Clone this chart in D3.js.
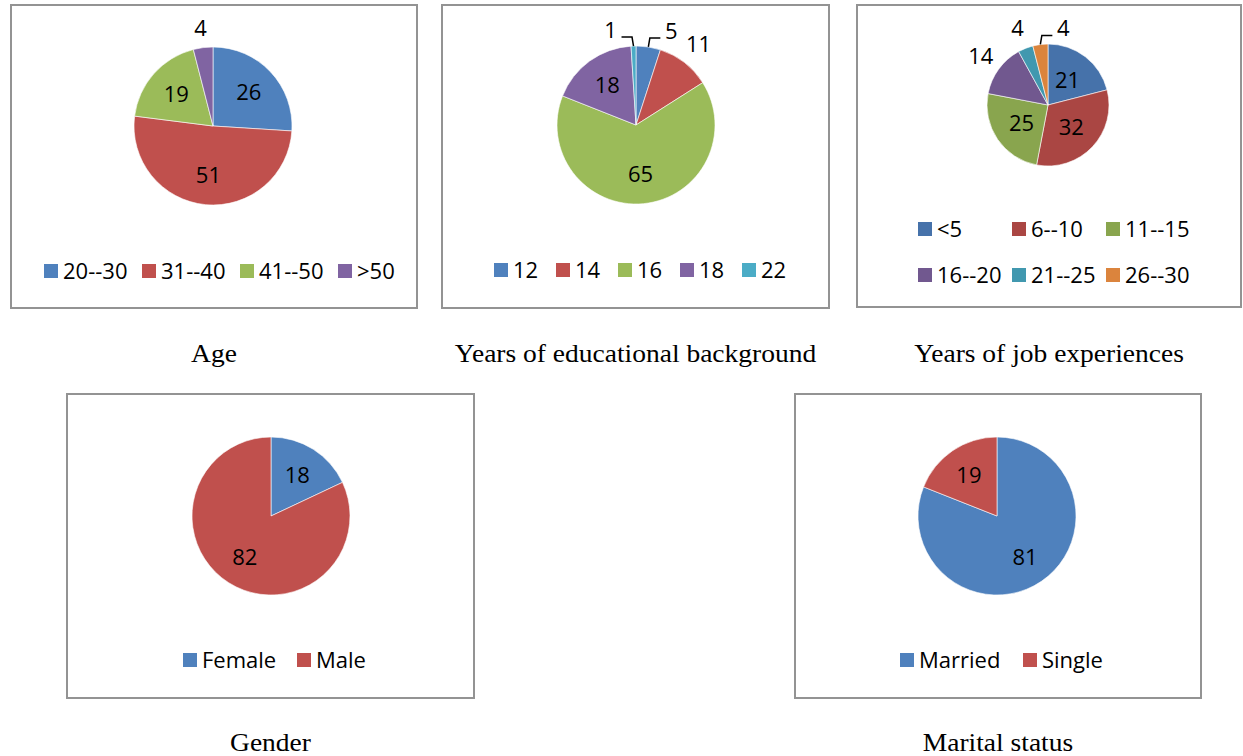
<!DOCTYPE html>
<html>
<head>
<meta charset="utf-8">
<script src="https://cdn.jsdelivr.net/npm/d3@7"></script>
<style>
  html, body { margin: 0; padding: 0; background: #fff; }
  svg { display: block; }
</style>
</head>
<body>
<script>
// ---------------- DATA ----------------
const ageCategories = ["20--30", "31--40", "41--50", ">50"];
const ageValues = [26, 51, 19, 4];

const eduCategories = ["12", "14", "16", "18", "22"];
const eduValues = [5, 11, 65, 18, 1];

const jobCategories = ["<5", "6--10", "11--15", "16--20", "21--25", "26--30"];
const jobValues = [21, 32, 25, 14, 4, 4];

const genderCategories = ["Female", "Male"];
const genderValues = [18, 82];

const maritalCategories = ["Married", "Single"];
const maritalValues = [81, 19];

const captions = ["Age", "Years of educational background", "Years of job experiences", "Gender", "Marital status"];

// ---------------- STYLE ----------------
const officeColors = ["#4F81BD", "#C0504D", "#9BBB59", "#8064A2", "#4BACC6", "#F79646"];
const darkColors = ["#4672AA", "#AA4643", "#89A54E", "#71588F", "#4198AF", "#DB843D"];
const sansFont = "'Open Sans', 'Noto Sans', sans-serif";
const serifFont = "'Liberation Serif', 'Times New Roman', serif";

const W = 1243, H = 756;
const svg = d3.select("body").append("svg").attr("width", W).attr("height", H);

// ---------------- PANEL LAYOUT ----------------
const panels = [
  { cats: ageCategories, vals: ageValues, colors: officeColors,
    box: [11, 5, 417, 308], cx: 213, cy: 126, r: 79,
    modes: ["in", "in", "in", "out"], inR: 49, outR: 99,
    legend: { x0: 44, cellW: 98, perRow: 4, ys: [271] },
    caption: captions[0], capY: 362 },
  { cats: eduCategories, vals: eduValues, colors: officeColors,
    box: [442, 5, 829, 308], cx: 636, cy: 125, r: 79,
    modes: ["lead+", "out", "in", "in", "lead-"], inR: 49, outR: 102,
    legend: { x0: 494, cellW: 62, perRow: 5, ys: [270] },
    caption: captions[1], capY: 362 },
  { cats: jobCategories, vals: jobValues, colors: darkColors,
    box: [857, 5, 1241, 307], cx: 1048, cy: 105, r: 61,
    modes: ["in", "in", "in", "out", "out", "lead+"], inR: 32, outR: 83,
    legend: { x0: 918, cellW: 94, perRow: 3, ys: [229, 275] },
    caption: captions[2], capY: 362 },
  { cats: genderCategories, vals: genderValues, colors: officeColors,
    box: [67, 394, 474, 698], cx: 271, cy: 516, r: 79,
    modes: ["in", "in"], inR: 49, outR: 99,
    legend: { x0: 183, cellW: 114, perRow: 2, ys: [660] },
    caption: captions[3], capY: 751 },
  { cats: maritalCategories, vals: maritalValues, colors: officeColors,
    box: [795, 394, 1201, 698], cx: 997, cy: 516, r: 79,
    modes: ["in", "in"], inR: 50, outR: 99,
    legend: { x0: 900, cellW: 123, perRow: 2, ys: [660] },
    caption: captions[4], capY: 751 }
];

const pie = d3.pie().sort(null).value(d => d);

panels.forEach(p => {
  const [x1, y1, x2, y2] = p.box;
  const g = svg.append("g");

  // chart frame
  g.append("rect")
    .attr("x", x1).attr("y", y1)
    .attr("width", x2 - x1).attr("height", y2 - y1)
    .attr("fill", "#fff")
    .attr("stroke", "#939393").attr("stroke-width", 2);

  const color = d3.scaleOrdinal().domain(p.cats).range(p.colors);
  const arcs = pie(p.vals);
  const arc = d3.arc().innerRadius(0).outerRadius(p.r);
  const inArc = d3.arc().innerRadius(p.inR).outerRadius(p.inR);
  const outArc = d3.arc().innerRadius(p.outR).outerRadius(p.outR);
  const edgeArc = d3.arc().innerRadius(p.r).outerRadius(p.r);

  const pg = g.append("g").attr("transform", `translate(${p.cx},${p.cy})`);

  pg.selectAll("path.slice")
    .data(arcs)
    .join("path")
    .attr("class", "slice")
    .attr("d", arc)
    .attr("fill", (d, i) => color(p.cats[i]))
    .attr("stroke", "#fff")
    .attr("stroke-width", 0.6);

  // data labels
  arcs.forEach((d, i) => {
    const mode = p.modes[i];
    let lx, ly;
    if (mode === "in") {
      [lx, ly] = inArc.centroid(d);
    } else if (mode === "out") {
      [lx, ly] = outArc.centroid(d);
    } else {
      const sign = mode === "lead+" ? 1 : -1;
      const [ex, ey] = edgeArc.centroid(d);
      lx = ex + sign * 23;
      ly = ey - 16;
      pg.append("path")
        .attr("d", d3.line()([[ex, ey], [ex + sign * 1.5, ey - 9], [ex + sign * 12, ey - 9]]))
        .attr("fill", "none")
        .attr("stroke", "#000")
        .attr("stroke-width", 1.5);
    }
    pg.append("text")
      .attr("x", lx).attr("y", ly)
      .attr("dy", "0.36em")
      .attr("text-anchor", "middle")
      .attr("font-family", sansFont)
      .attr("font-size", 22)
      .attr("fill", "#000")
      .text(p.vals[i]);
  });

  // legend
  const lg = g.append("g");
  p.cats.forEach((c, i) => {
    const row = Math.floor(i / p.legend.perRow);
    const col = i % p.legend.perRow;
    const x = p.legend.x0 + col * p.legend.cellW;
    const y = p.legend.ys[row];
    lg.append("rect")
      .attr("x", x).attr("y", y - 7)
      .attr("width", 14).attr("height", 14)
      .attr("fill", color(c));
    lg.append("text")
      .attr("x", x + 19).attr("y", y)
      .attr("dy", "0.36em")
      .attr("font-family", sansFont)
      .attr("font-size", 22)
      .attr("fill", "#000")
      .text(c);
  });

  // caption below frame
  svg.append("text")
    .attr("transform", `translate(${(x1 + x2) / 2},${p.capY}) scale(1.1,1)`)
    .attr("text-anchor", "middle")
    .attr("font-family", serifFont)
    .attr("font-size", 25)
    .attr("fill", "#000")
    .text(p.caption);
});
</script>
</body>
</html>
